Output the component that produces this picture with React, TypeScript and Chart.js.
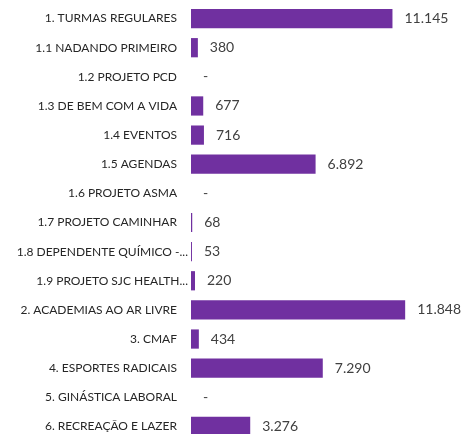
import React, { useEffect, useRef } from "react";
import { Chart, registerables } from "chart.js";

Chart.register(...registerables);

const categories = [
  "1. TURMAS REGULARES",
  "1.1 NADANDO PRIMEIRO",
  "1.2 PROJETO PCD",
  "1.3 DE BEM COM A VIDA",
  "1.4 EVENTOS",
  "1.5 AGENDAS",
  "1.6 PROJETO ASMA",
  "1.7 PROJETO CAMINHAR",
  "1.8 DEPENDENTE QUÍMICO -...",
  "1.9 PROJETO SJC HEALTH...",
  "2. ACADEMIAS AO AR LIVRE",
  "3. CMAF",
  "4. ESPORTES RADICAIS",
  "5. GINÁSTICA LABORAL",
  "6. RECREAÇÃO E LAZER",
];

const values = [11145, 380, 0, 677, 716, 6892, 0, 68, 53, 220, 11848, 434, 7290, 0, 3276];

const xMax = 13000;

function fmt(v: number): string {
  if (v === 0) return "-";
  const s = Math.round(v).toString();
  return s.replace(/\B(?=(\d{3})+(?!\d))/g, ".");
}

const labelsPlugin = {
  id: "customLabels",
  afterDatasetsDraw(chart: any) {
    const ctx = chart.ctx;
    const meta = chart.getDatasetMeta(0);
    const yScale = chart.scales.y;
    ctx.save();
    // category labels
    ctx.font = "12px Lato";
    ctx.fillStyle = "#262626";
    ctx.textAlign = "right";
    ctx.textBaseline = "middle";
    categories.forEach((c, i) => {
      const y = yScale.getPixelForValue(i);
      const right = c.endsWith("...") ? chart.chartArea.left - 3 : chart.chartArea.left - 14;
      ctx.fillText(c, right, y);
    });
    // value labels
    ctx.font = "14px Lato";
    ctx.fillStyle = "#404040";
    ctx.textAlign = "left";
    meta.data.forEach((bar: any, i: number) => {
      const v = values[i];
      ctx.fillText(fmt(v), bar.x + 12, bar.y);
    });
    ctx.restore();
  },
};

export default function App() {
  const ref = useRef<HTMLCanvasElement | null>(null);
  useEffect(() => {
    if (!ref.current) return;
    const chart = new Chart(ref.current, {
      type: "bar",
      data: {
        labels: categories,
        datasets: [
          {
            data: values,
            backgroundColor: "#7030A0",
            borderWidth: 0,
            categoryPercentage: 1,
            barPercentage: 0.66,
          },
        ],
      },
      options: {
        indexAxis: "y",
        animation: false,
        responsive: false,
        maintainAspectRatio: false,
        layout: { padding: { left: 191, right: 39, top: 4, bottom: 4 } },
        plugins: {
          legend: { display: false },
          tooltip: { enabled: false },
        },
        scales: {
          x: { display: false, min: 0, max: xMax },
          y: { display: false },
        },
      },
      plugins: [labelsPlugin],
    });
    return () => chart.destroy();
  }, []);
  return (
    <div style={{ position: "fixed", left: 0, top: 0, width: 465, height: 434, overflow: "hidden", background: "#fff" }}>
      <canvas ref={ref} width={465} height={445} style={{ display: "block", width: 465, height: 445 }} />
    </div>
  );
}
